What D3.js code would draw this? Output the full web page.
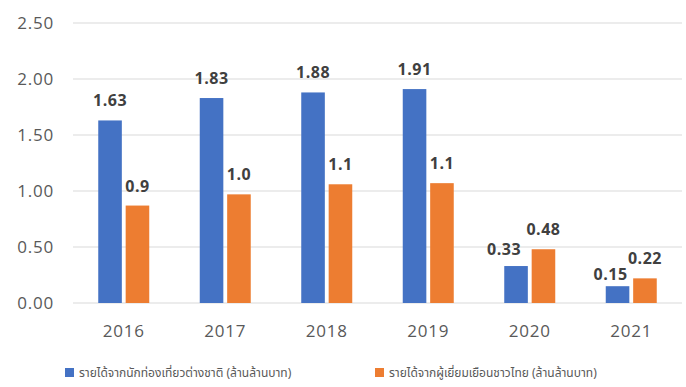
<!DOCTYPE html>
<html>
<head>
<meta charset="utf-8">
<script src="https://cdn.jsdelivr.net/npm/d3@7"></script>
<style>
  html, body { margin: 0; padding: 0; background: #ffffff; }
  svg { display: block; }
  .tick-label { font-family: "Open Sans", "DejaVu Sans", sans-serif; fill: #595959; letter-spacing: 0.8px; }
  .value-label { font-family: "Open Sans", "DejaVu Sans", sans-serif; font-weight: 700; fill: #404040; letter-spacing: 0.5px; }
  .legend-text { font-family: "Noto Sans Thai", "Tahoma", "DejaVu Sans", sans-serif; fill: #595959; }
</style>
</head>
<body>
<svg id="chart" width="686" height="387"></svg>
<script>
// Tourism revenue, trillion baht
const years = ["2016", "2017", "2018", "2019", "2020", "2021"];
const foreignRevenue = [1.63, 1.83, 1.88, 1.91, 0.33, 0.15];
const domesticRevenue = [0.87, 0.97, 1.06, 1.07, 0.48, 0.22];
const domesticDecimals = [1, 1, 1, 1, 2, 2];
const yTicks = [0, 0.5, 1.0, 1.5, 2.0, 2.5];
const seriesNames = [
  "รายได้จากนักท่องเที่ยวต่างชาติ (ล้านล้านบาท)",
  "รายได้จากผู้เยี่ยมเยือนชาวไทย (ล้านล้านบาท)"
];
const seriesColors = ["#4472c4", "#ed7d31"];

const svg = d3.select("#chart");
const plot = { left: 73, right: 682, top: 23, bottom: 303 };
const groupWidth = 51;

const x = d3.scaleBand().domain(years).range([plot.left, plot.right]);
const inner = d3.scaleBand().domain([0, 1]).range([0, groupWidth]).paddingInner(0.14);
const y = d3.scaleLinear().domain([0, 2.5]).range([plot.bottom, plot.top]);

// gridlines
svg.append("g").selectAll("line").data(yTicks).join("line")
  .attr("x1", plot.left).attr("x2", plot.right)
  .attr("y1", d => y(d)).attr("y2", d => y(d))
  .attr("stroke", "#d9d9d9").attr("stroke-width", 1.2);

// y axis labels
const yAxis = d3.axisLeft(y).tickValues(yTicks).tickFormat(d3.format(".2f")).tickSize(0).tickPadding(19);
const yg = svg.append("g").attr("transform", `translate(${plot.left},0)`).call(yAxis);
yg.select(".domain").remove();
yg.selectAll("text").attr("class", "tick-label").style("font-size", "17px").attr("dy", "0.35em");

// x axis labels
const xAxis = d3.axisBottom(x).tickSize(0).tickPadding(34);
const xg = svg.append("g").attr("transform", `translate(0,${plot.bottom})`).call(xAxis);
xg.select(".domain").remove();
xg.selectAll("text").attr("class", "tick-label").style("font-size", "17px").attr("dy", "0");

const series = [
  { values: foreignRevenue, fmt: (v) => v.toFixed(2) },
  { values: domesticRevenue, fmt: (v, i) => v.toFixed(domesticDecimals[i]) }
];

// small manual nudges for labels that would collide
const labelNudge = { "0-4": [-12, 3], "0-5": [-7, 8] };
const groupOffset = (x.bandwidth() - groupWidth) / 2;

series.forEach((s, si) => {
  const g = svg.append("g");
  const barX = i => x(years[i]) + groupOffset + inner(si);
  g.selectAll("rect").data(s.values).join("rect")
    .attr("x", (d, i) => barX(i))
    .attr("width", inner.bandwidth())
    .attr("y", d => y(d))
    .attr("height", d => y(0) - y(d))
    .attr("fill", seriesColors[si]);
  g.selectAll("text").data(s.values).join("text")
    .attr("class", "value-label")
    .style("font-size", "16px")
    .attr("text-anchor", "middle")
    .attr("x", (d, i) => barX(i) + inner.bandwidth() / 2 + (labelNudge[si + "-" + i] || [0, 0])[0])
    .attr("y", (d, i) => y(d) - 14 + (labelNudge[si + "-" + i] || [0, 0])[1])
    .text((d, i) => s.fmt(d, i));
});

// legend
const legendItems = [
  { x: 65, name: seriesNames[0], color: seriesColors[0] },
  { x: 375, name: seriesNames[1], color: seriesColors[1] }
];
const lg = svg.append("g");
legendItems.forEach(item => {
  lg.append("rect").attr("x", item.x).attr("y", 368).attr("width", 9).attr("height", 9).attr("fill", item.color);
  lg.append("text").attr("class", "legend-text").style("font-size", "12px")
    .attr("x", item.x + 14).attr("y", 377).text(item.name);
});
</script>
</body>
</html>
